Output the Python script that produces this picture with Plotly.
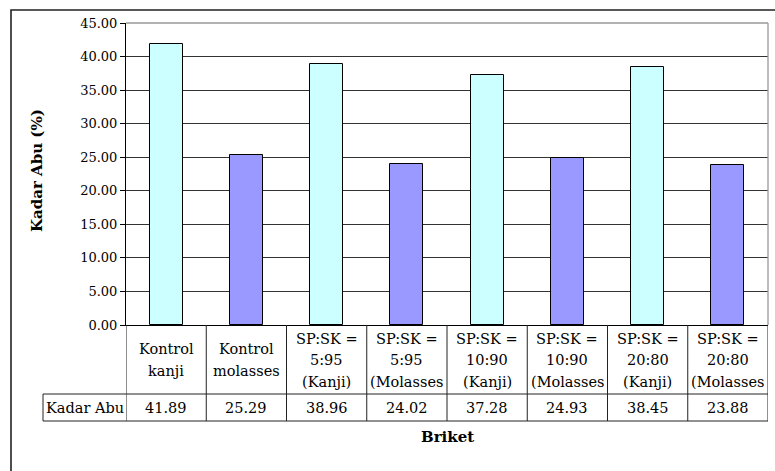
import plotly.graph_objects as go

# Data
categories = [
    "Kontrol<br>kanji",
    "Kontrol<br>molasses",
    "SP:SK =<br>5:95<br>(Kanji)",
    "SP:SK =<br>5:95<br>(Molasses",
    "SP:SK =<br>10:90<br>(Kanji)",
    "SP:SK =<br>10:90<br>(Molasses",
    "SP:SK =<br>20:80<br>(Kanji)",
    "SP:SK =<br>20:80<br>(Molasses",
]
kadar_abu = [41.89, 25.29, 38.96, 24.02, 37.28, 24.93, 38.45, 23.88]
bar_colors = ["#CCFFFF", "#9999FF"] * 4
row_label = "Kadar Abu"
x_title = "Briket"
y_title = "Kadar Abu (%)"

# Layout geometry (pixels)
W, H = 775, 471
L, R, T, B = 126, 7, 23, 146
PW, PH = W - L - R, H - T - B
FONT = "DejaVu Serif"
TABLE_SIZE = 14.5
LINE_STEP = 21.5


def px_x(p):
    return (p - L) / PW


def px_y(p):
    return (H - B - p) / PH


n = len(kadar_abu)
xs = list(range(n))

fig = go.Figure(
    go.Bar(
        x=xs,
        y=kadar_abu,
        width=0.41,
        marker=dict(color=bar_colors, line=dict(color="#000000", width=1)),
        showlegend=False,
    )
)

shapes = []
line_style = dict(color="#222222", width=1)
row1_bottom = px_y(394)
row2_bottom = px_y(421)

# Data table grid
for b in [i - 0.5 for i in range(n + 1)]:
    shapes.append(dict(type="line", xref="x", yref="paper", x0=b, x1=b,
                       y0=0, y1=row2_bottom, line=line_style))
shapes.append(dict(type="line", xref="paper", yref="paper", x0=px_x(43), x1=1,
                   y0=row1_bottom, y1=row1_bottom, line=line_style))
shapes.append(dict(type="line", xref="paper", yref="paper", x0=px_x(43), x1=1,
                   y0=row2_bottom, y1=row2_bottom, line=line_style))
shapes.append(dict(type="line", xref="paper", yref="paper", x0=px_x(43), x1=px_x(43),
                   y0=row1_bottom, y1=row2_bottom, line=line_style))

# Plot-area frame (top and right)
frame = dict(color="#999999", width=1.3)
shapes.append(dict(type="line", xref="paper", yref="paper", x0=0, x1=1, y0=1, y1=1,
                   line=frame))
shapes.append(dict(type="line", xref="paper", yref="paper", x0=1, x1=1, y0=0, y1=1,
                   line=frame))

# Chart-area border
shapes.append(dict(type="rect", xref="paper", yref="paper",
                   x0=px_x(11), x1=px_x(790), y0=px_y(490), y1=px_y(10),
                   line=dict(color="#222222", width=1.6)))

table_font = dict(family=FONT, size=TABLE_SIZE, color="#000000")
annotations = []
for i, c in enumerate(categories):
    lines = c.split("<br>")
    first = 360 - LINE_STEP * (len(lines) - 1) / 2
    for k, ln in enumerate(lines):
        annotations.append(dict(x=i, y=px_y(first + k * LINE_STEP), xref="x",
                                yref="paper", text=ln, showarrow=False,
                                xanchor="center", yanchor="middle",
                                font=table_font))
    annotations.append(dict(x=i, y=px_y(408), xref="x", yref="paper",
                            text=f"{kadar_abu[i]:.2f}",
                            showarrow=False, xanchor="center", yanchor="middle",
                            font=table_font))
annotations.append(dict(x=px_x(84.5), y=px_y(408), xref="paper", yref="paper",
                        text=row_label, showarrow=False, xanchor="center",
                        yanchor="middle", font=table_font))
annotations.append(dict(x=0.5, y=px_y(437), xref="paper", yref="paper",
                        text=f"<b>{x_title}</b>", showarrow=False,
                        xanchor="center", yanchor="middle",
                        font=dict(family=FONT, size=15, color="#000000")))
annotations.append(dict(x=px_x(37), y=px_y(171), xref="paper", yref="paper",
                        text=f"<b>{y_title}</b>", showarrow=False, textangle=-90,
                        xanchor="center", yanchor="middle",
                        font=dict(family=FONT, size=15, color="#000000")))

fig.update_layout(
    width=W, height=H,
    margin=dict(l=L, r=R, t=T, b=B),
    paper_bgcolor="#FFFFFF",
    plot_bgcolor="#FFFFFF",
    bargap=0,
    shapes=shapes,
    annotations=annotations,
    xaxis=dict(range=[-0.5, n - 0.5], showticklabels=False, showgrid=False,
               zeroline=False, showline=True, linecolor="#000000", linewidth=1,
               ticks=""),
    yaxis=dict(range=[0, 45], dtick=5, tickformat=".2f", showgrid=True,
               gridcolor="#333333", gridwidth=1, zeroline=False, showline=True,
               linecolor="#000000", linewidth=1, ticks="outside", ticklen=5,
               tickcolor="#000000",
               tickfont=dict(family=FONT, size=13, color="#000000")),
)

fig.write_html("out.html")
